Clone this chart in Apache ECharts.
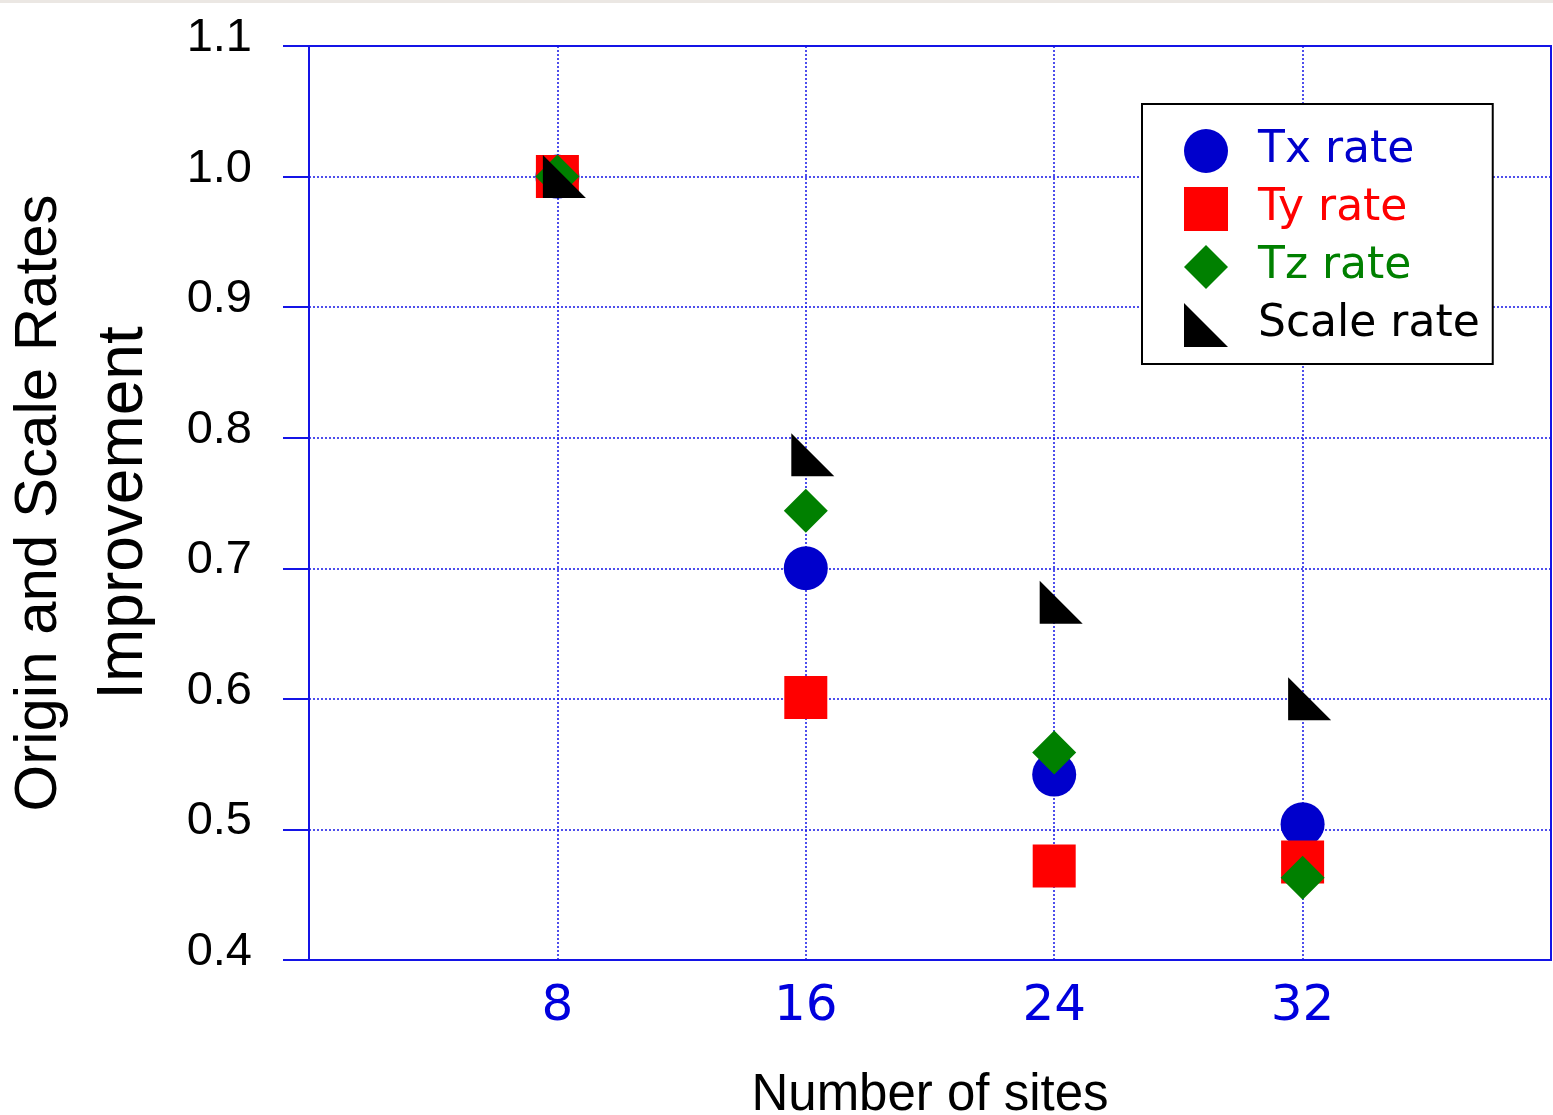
<!DOCTYPE html>
<html>
<head>
<meta charset="utf-8">
<script src="https://cdn.jsdelivr.net/npm/echarts@6/dist/echarts.min.js"></script>
<style>
  html, body { margin: 0; padding: 0; background: #ffffff; }
  #chart { width: 1553px; height: 1115px; }
</style>
</head>
<body>
<div id="chart"></div>
<script>
// ---- data ----
const sites = [8, 16, 24, 32];
const txRate = [1.0, 0.700, 0.542, 0.504];
const tyRate = [1.0, 0.601, 0.472, 0.475];
const tzRate = [1.0, 0.744, 0.559, 0.463];
const scaleRate = [1.0, 0.787, 0.674, 0.600];
const seriesNames = ['Tx rate', 'Ty rate', 'Tz rate', 'Scale rate'];
const xTickLabels = ['8', '16', '24', '32'];
const yTickLabels = ['0.4', '0.5', '0.6', '0.7', '0.8', '0.9', '1.0', '1.1'];

const AXIS_BLUE = '#1414e6';
const colors = ['#0000cc', '#ff0000', '#008000', '#000000'];
const triPath = 'path://M0,0L0,1L1,1Z';

function pairs(vals) { return sites.map((s, i) => [s, vals[i]]); }

const chart = echarts.init(document.getElementById('chart'), null, { renderer: 'canvas' });
chart.setOption({
  animation: false,
  backgroundColor: '#ffffff',
  graphic: [{
    type: 'rect', left: 0, top: 0, z: 100,
    shape: { width: 1553, height: 3 },
    style: { fill: '#ebe7e3' }
  }],
  grid: {
    left: 309, right: 2, top: 46, bottom: 155,
    containLabel: false, outerBoundsMode: 'none',
    show: true, borderColor: AXIS_BLUE, borderWidth: 2, backgroundColor: 'transparent'
  },
  xAxis: {
    type: 'value', min: 0, max: 40, interval: 8,
    name: 'Number of sites', nameLocation: 'middle', nameGap: 110,
    nameTextStyle: { fontFamily: 'Liberation Sans', fontSize: 51, color: '#000' },
    axisLine: { show: true, lineStyle: { color: AXIS_BLUE, width: 2 } },
    axisTick: { show: false },
    axisLabel: {
      margin: 22, fontFamily: 'DejaVu Sans', fontSize: 50, color: '#0000dd',
      formatter: v => { const i = sites.indexOf(v); return i >= 0 ? xTickLabels[i] : ''; }
    },
    splitLine: { show: true, lineStyle: { color: AXIS_BLUE, width: 1.5, type: [2, 2] } }
  },
  yAxis: {
    type: 'value', min: 0.4, max: 1.1, interval: 0.1,
    name: '{a|Origin and Scale Rates}\n{b|Improvement}',
    nameLocation: 'middle', nameRotate: 90, nameGap: 142,
    nameTextStyle: {
      color: '#000',
      rich: {
        a: { fontFamily: 'Liberation Sans', fontSize: 60, lineHeight: 85, color: '#000' },
        b: { fontFamily: 'Liberation Sans', fontSize: 64, lineHeight: 85, color: '#000', padding: [0, 20, 0, 0] }
      }
    },
    axisLine: { show: true, lineStyle: { color: AXIS_BLUE, width: 2 } },
    axisTick: { show: true, length: 26, lineStyle: { color: AXIS_BLUE, width: 2 } },
    axisLabel: {
      margin: 57, fontFamily: 'Liberation Sans', fontSize: 47, color: '#000',
      verticalAlign: 'bottom', lineHeight: 16,
      formatter: v => {
        const i = Math.round((v - 0.4) * 10);
        return yTickLabels[i] !== undefined ? yTickLabels[i] : '';
      }
    },
    splitLine: { show: true, lineStyle: { color: AXIS_BLUE, width: 1.5, type: [2, 2] } }
  },
  legend: {
    show: true, orient: 'vertical', left: 1142, top: 104,
    padding: [25, 13, 17, 42], itemWidth: 44, itemHeight: 44, itemGap: 14,
    backgroundColor: '#ffffff', borderColor: '#000', borderWidth: 2,
    textStyle: { fontFamily: 'DejaVu Sans', fontSize: 44, padding: [0, 0, 0, 25] },
    data: [
      { name: seriesNames[0], icon: 'circle', textStyle: { color: colors[0] } },
      { name: seriesNames[1], icon: 'rect', textStyle: { color: colors[1] } },
      { name: seriesNames[2], icon: 'diamond', textStyle: { color: colors[2] } },
      { name: seriesNames[3], icon: triPath, textStyle: { color: colors[3] } }
    ]
  },
  series: [
    { name: seriesNames[0], type: 'scatter', data: pairs(txRate), symbol: 'circle', symbolSize: 44,
      itemStyle: { color: colors[0], opacity: 1 } },
    { name: seriesNames[1], type: 'scatter', data: pairs(tyRate), symbol: 'rect', symbolSize: 43,
      itemStyle: { color: colors[1], opacity: 1 } },
    { name: seriesNames[2], type: 'scatter', data: pairs(tzRate), symbol: 'diamond', symbolSize: 44,
      itemStyle: { color: colors[2], opacity: 1 } },
    { name: seriesNames[3], type: 'scatter', data: pairs(scaleRate), symbol: triPath, symbolSize: 43,
      symbolOffset: [7, 0], itemStyle: { color: colors[3], opacity: 1 } }
  ]
});
</script>
</body>
</html>
